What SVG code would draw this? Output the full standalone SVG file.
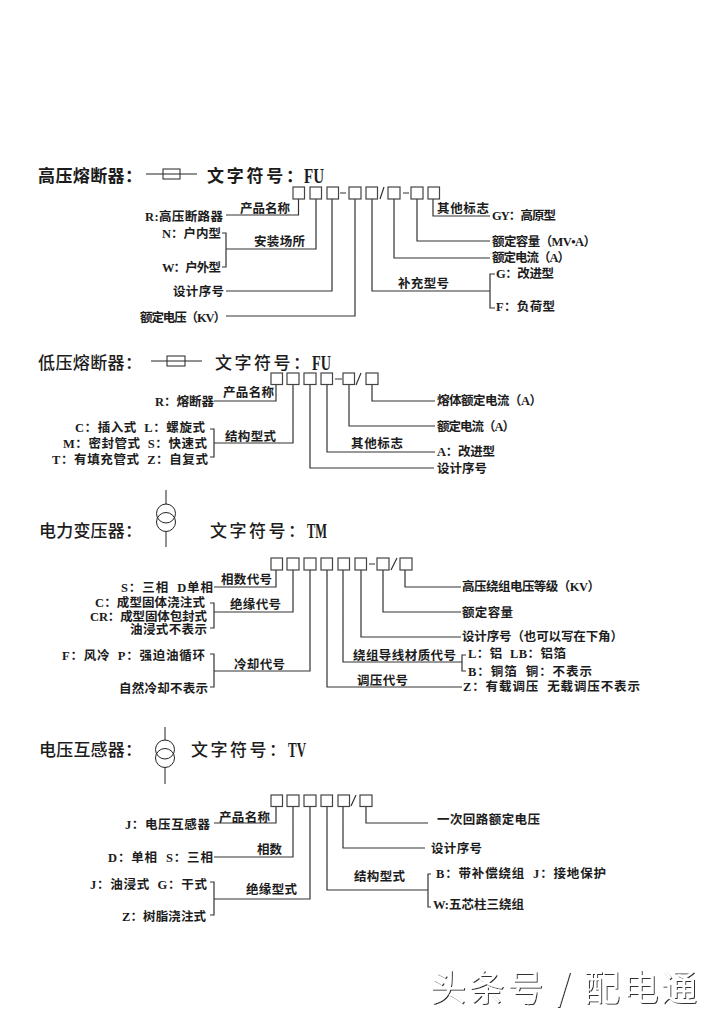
<svg xmlns="http://www.w3.org/2000/svg" width="720" height="1019" viewBox="0 0 720 1019">
<style>
text{font-family:"Liberation Serif","Noto Sans CJK SC",serif;fill:#1c1c1c;dominant-baseline:central;white-space:pre}
.t{font-size:17px;font-weight:500;transform:translateY(1px)}
.tb{font-size:17px;font-weight:700;transform:translateY(1px)}
.m{font-size:20px;font-weight:700;transform:translateY(1px)}
.l{font-size:12.5px;font-weight:700;transform:translateY(1px)}
.w{font-family:"Noto Sans CJK SC",sans-serif;font-size:36px;font-weight:400;fill:#fff;filter:url(#sh)}
.c{fill:none;stroke:#333;stroke-width:1.2}
.b{fill:#fff;stroke:#444;stroke-width:1.2}
.s{fill:none;stroke:#222;stroke-width:1}
</style>
<defs><filter id="sh" x="-5%" y="-20%" width="110%" height="140%"><feDropShadow dx="1" dy="1" stdDeviation="0.4" flood-color="#333"/></filter></defs>
<rect width="720" height="1019" fill="#fff"/>

<g id="connectors" class="c">
<path d="M298.500 199V215H226M316 199V249H226M222 233H226V267H222M332 199V291H226M355 199V316H226M372 199V291H490M495 274H490V308H495M394 199V258H490M417 199V241H490M433 199V216H490"/>
<path d="M276 384V401H214M293 384V443H214M210 429H214V457H210M310 384V468H434M327 384V452H435M349 384V426H435M372 384V401H435"/>
<path d="M276 570V587H214M293 570V612H214M210 603H214V628H210M310 570V671H214M210 654H214V687H210M327 570V687H462M343 570V662H462M466 655H462V671H466M361 570V637H461M383 570V612H461M405 570V587H461"/>
<path d="M276 806V823H214M293 806V857H214M310 806V899H214M210 882H214V915H210M327 806V890H428M431 874H428V907H431M343 806V848H425M366 806V823H428"/>
<path d="M340 193H346M380 199L384 187M403 193H409M335 379H342M356 385L361 373M369 564H375M391 570L397 558M351 806L356 795"/>
</g>

<g id="fuse-hv" class="s"><path d="M146 174H197"/><rect x="163" y="169" width="17" height="10"/></g>
<g id="fuse-lv" class="s"><path d="M151 361H202"/><rect x="167" y="356" width="18" height="10"/></g>
<g id="transformer-power" class="s"><path d="M166 490V504M166 531.500V547"/><circle cx="166" cy="513.500" r="9.500"/><circle cx="166" cy="522" r="9.500"/></g>
<g id="transformer-voltage" class="s"><path d="M165 727V740M165 767V784"/><circle cx="165" cy="749.500" r="9.500"/><circle cx="165" cy="758" r="9.500"/></g>

<g id="code-hv" class="b"><rect x="293" y="187" width="11.500" height="12"/><rect x="310" y="187" width="11.500" height="12"/><rect x="327" y="187" width="11.500" height="12"/><rect x="349" y="187" width="12" height="12"/><rect x="366" y="187" width="11.500" height="12"/><rect x="388" y="187" width="12" height="12"/><rect x="411" y="187" width="12" height="12"/><rect x="428" y="187" width="11.500" height="12"/></g>
<g id="code-lv" class="b"><rect x="271" y="373" width="11.500" height="11.500"/><rect x="287" y="373" width="12" height="11.500"/><rect x="304" y="373" width="12" height="11.500"/><rect x="321" y="373" width="11.500" height="11.500"/><rect x="343" y="373" width="11.500" height="11.500"/><rect x="366" y="373" width="12" height="11.500"/></g>
<g id="code-tm" class="b"><rect x="271" y="558" width="11.500" height="12"/><rect x="287" y="558" width="12" height="12"/><rect x="304" y="558" width="12" height="12"/><rect x="321" y="558" width="11.500" height="12"/><rect x="338" y="558" width="11.500" height="12"/><rect x="355" y="558" width="11.500" height="12"/><rect x="377" y="558" width="12" height="12"/><rect x="400" y="558" width="12" height="12"/></g>
<g id="code-tv" class="b"><rect x="271" y="795" width="11.500" height="11.500"/><rect x="287" y="795" width="12" height="11.500"/><rect x="304" y="795" width="12" height="11.500"/><rect x="321" y="795" width="11.500" height="11.500"/><rect x="338" y="795" width="11.500" height="11.500"/><rect x="360" y="795" width="12" height="11.500"/></g>

<g id="hv-title"><text class="tb" x="38" y="175" textLength="104">高压熔断器：</text><text class="tb" x="207" y="175" textLength="96">文字符号：</text><text class="m" x="304" y="175" textLength="20" lengthAdjust="spacingAndGlyphs">FU</text></g>
<g id="hv-1"><text class="l" x="240" y="208" textLength="50">产品名称</text></g>
<g id="hv-2"><text class="l" x="145" y="216" textLength="78">R:高压断路器</text></g>
<g id="hv-3"><text class="l" x="162" y="233" textLength="59">N：户内型</text></g>
<g id="hv-4"><text class="l" x="162" y="267" textLength="59">W：户外型</text></g>
<g id="hv-5"><text class="l" x="254" y="241" textLength="51">安装场所</text></g>
<g id="hv-6"><text class="l" x="173" y="291" textLength="51">设计序号</text></g>
<g id="hv-7"><text class="l" x="140" y="317" textLength="86">额定电压（KV）</text></g>
<g id="hv-8"><text class="l" x="437" y="208" textLength="52">其他标志</text></g>
<g id="hv-9"><text class="l" x="492" y="215" textLength="64">GY：高原型</text></g>
<g id="hv-10"><text class="l" x="492" y="241" textLength="104">额定容量（MV•A）</text></g>
<g id="hv-11"><text class="l" x="492" y="257" textLength="78">额定电流（A）</text></g>
<g id="hv-12"><text class="l" x="398" y="283" textLength="51">补充型号</text></g>
<g id="hv-13"><text class="l" x="496" y="273" textLength="58">G：改进型</text></g>
<g id="hv-14"><text class="l" x="496" y="306" textLength="59">F：负荷型</text></g>

<g id="lv-title"><text class="t" x="38" y="362" textLength="104">低压熔断器：</text><text class="t" x="215" y="362" textLength="95">文字符号：</text><text class="m" x="312" y="362" textLength="19" lengthAdjust="spacingAndGlyphs">FU</text></g>
<g id="lv-1"><text class="l" x="223" y="392" textLength="51">产品名称</text></g>
<g id="lv-2"><text class="l" x="155" y="401" textLength="59">R：熔断器</text></g>
<g id="lv-3"><text class="l" x="225" y="436" textLength="51">结构型式</text></g>
<g id="lv-4"><text class="l" x="75" y="427" textLength="130">C：插入式  L：螺旋式</text></g>
<g id="lv-5"><text class="l" x="63" y="443" textLength="144">M：密封管式  S：快速式</text></g>
<g id="lv-6"><text class="l" x="52" y="459" textLength="156">T：有填充管式  Z：自复式</text></g>
<g id="lv-7"><text class="l" x="437" y="400" textLength="105">熔体额定电流（A）</text></g>
<g id="lv-8"><text class="l" x="437" y="426" textLength="78">额定电流（A）</text></g>
<g id="lv-9"><text class="l" x="351" y="443" textLength="52">其他标志</text></g>
<g id="lv-10"><text class="l" x="437" y="451" textLength="58">A：改进型</text></g>
<g id="lv-11"><text class="l" x="437" y="468" textLength="50">设计序号</text></g>

<g id="tm-title"><text class="t" x="39" y="530" textLength="103">电力变压器：</text><text class="t" x="210" y="530" textLength="95">文字符号：</text><text class="m" x="307" y="530" textLength="20" lengthAdjust="spacingAndGlyphs">TM</text></g>
<g id="tm-1"><text class="l" x="221" y="579" textLength="51">相数代号</text></g>
<g id="tm-2"><text class="l" x="121" y="587" textLength="92">S：三相  D单相</text></g>
<g id="tm-3"><text class="l" x="230" y="604" textLength="51">绝缘代号</text></g>
<g id="tm-4"><text class="l" x="95" y="602" textLength="110">C：成型固体浇注式</text></g>
<g id="tm-5"><text class="l" x="90" y="616" textLength="117">CR：成型固体包封式</text></g>
<g id="tm-6"><text class="l" x="130" y="629" textLength="77">油浸式不表示</text></g>
<g id="tm-7"><text class="l" x="62" y="655" textLength="143">F：风冷  P：强迫油循环</text></g>
<g id="tm-8"><text class="l" x="234" y="664" textLength="51">冷却代号</text></g>
<g id="tm-9"><text class="l" x="119" y="688" textLength="89">自然冷却不表示</text></g>
<g id="tm-10"><text class="l" x="462" y="586" textLength="138">高压绕组电压等级（KV）</text></g>
<g id="tm-11"><text class="l" x="462" y="612" textLength="51">额定容量</text></g>
<g id="tm-12"><text class="l" x="462" y="636" textLength="161">设计序号（也可以写在下角）</text></g>
<g id="tm-13"><text class="l" x="353" y="655" textLength="103">绕组导线材质代号</text></g>
<g id="tm-14"><text class="l" x="468" y="653" textLength="98">L：铝  LB：铝箔</text></g>
<g id="tm-15"><text class="l" x="468" y="671" textLength="124">B：铜箔  铜：不表示</text></g>
<g id="tm-16"><text class="l" x="357" y="680" textLength="51">调压代号</text></g>
<g id="tm-17"><text class="l" x="463" y="686" textLength="177">Z：有载调压  无载调压不表示</text></g>

<g id="tv-title"><text class="t" x="39" y="749" textLength="103">电压互感器：</text><text class="t" x="191" y="749" textLength="95">文字符号：</text><text class="m" x="288" y="749" textLength="18" lengthAdjust="spacingAndGlyphs">TV</text></g>
<g id="tv-1"><text class="l" x="219" y="817" textLength="51">产品名称</text></g>
<g id="tv-2"><text class="l" x="125" y="824" textLength="85">J：电压互感器</text></g>
<g id="tv-3"><text class="l" x="257" y="849" textLength="25">相数</text></g>
<g id="tv-4"><text class="l" x="108" y="857" textLength="105">D：单相  S：三相</text></g>
<g id="tv-5"><text class="l" x="90" y="884" textLength="117">J：油浸式  G：干式</text></g>
<g id="tv-6"><text class="l" x="246" y="889" textLength="51">绝缘型式</text></g>
<g id="tv-7"><text class="l" x="122" y="916" textLength="84">Z：树脂浇注式</text></g>
<g id="tv-8"><text class="l" x="437" y="819" textLength="103">一次回路额定电压</text></g>
<g id="tv-9"><text class="l" x="431" y="848" textLength="51">设计序号</text></g>
<g id="tv-10"><text class="l" x="354" y="876" textLength="51">结构型式</text></g>
<g id="tv-11"><text class="l" x="436" y="873" textLength="170">B：带补偿绕组  J：接地保护</text></g>
<g id="tv-12"><text class="l" x="433" y="904" textLength="91">W:五芯柱三绕组</text></g>

<g id="watermark"><text class="w" x="430" y="985" textLength="267">头条号 / 配电通</text></g>
</svg>
